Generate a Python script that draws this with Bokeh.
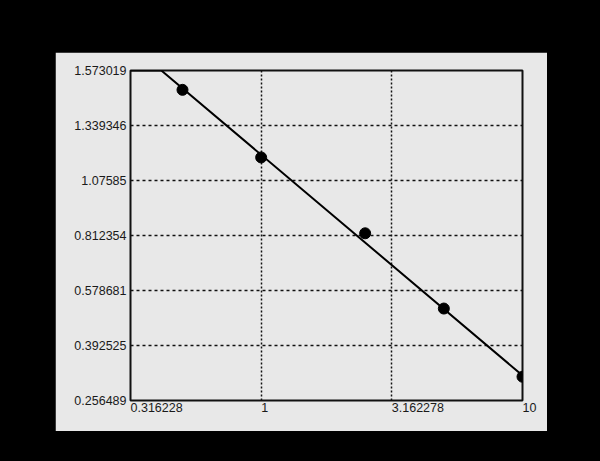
import numpy as np
from bokeh.plotting import figure
from bokeh.models import (FixedTicker, Range1d, ColumnDataSource,
                          GlobalInlineStyleSheet)
from bokeh.embed import file_html
from bokeh.resources import INLINE

# ---- data ----
x_tick_vals = [0.316228, 1, 3.162278, 10]
x_tick_labels = ["0.316228", "1", "3.162278", "10"]
y_tick_vals = [0.256489, 0.392525, 0.578681, 0.812354, 1.07585, 1.339346, 1.573019]
y_tick_labels = ["0.256489", "0.392525", "0.578681", "0.812354", "1.07585", "1.339346", "1.573019"]

conc = [0.5, 1.0, 2.5, 5.0, 10.0]
resp = [1.4908, 1.1863, 0.8229, 0.5176, 0.3153]

fit_x = [0.316228, 0.415, 10.0]
fit_y = [1.573019, 1.573019, 0.3184]

FONT = "Liberation Sans"

# the response axis is a non-linear scale with evenly spaced ticks:
# map values to tick positions through the tick table
y_pos = list(range(len(y_tick_vals)))
def to_pos(v):
    return np.interp(v, y_tick_vals, y_pos)

css = GlobalInlineStyleSheet(css="html,body{background:#000 !important;margin:0 !important;} body{padding-left:55px;padding-top:52px;}")

p = figure(width=492, height=379, x_axis_type="log",
           x_range=Range1d(x_tick_vals[0], x_tick_vals[-1]),
           y_range=Range1d(y_pos[0], y_pos[-1]),
           output_backend="svg", toolbar_location=None,
           min_border_left=75, min_border_right=25,
           min_border_top=18, min_border_bottom=31)
p.stylesheets = [css]
p.background_fill_color = "#e8e8e8"
p.border_fill_color = "#e8e8e8"
p.outline_line_color = "#111111"
p.outline_line_width = 2

# y axis
p.yaxis.ticker = FixedTicker(ticks=y_pos)
p.yaxis.major_label_overrides = {i: s for i, s in zip(y_pos, y_tick_labels)}
p.yaxis.major_label_standoff = -2

# x axis: labels left-aligned at their ticks
p.xaxis.ticker = FixedTicker(ticks=x_tick_vals)
p.xaxis.major_label_overrides = {v: s for v, s in zip(x_tick_vals, x_tick_labels)}
p.xaxis.major_label_orientation = -0.0001
p.xaxis.major_label_standoff = 1

for ax in (p.xaxis[0], p.yaxis[0]):
    ax.axis_line_color = None
    ax.major_tick_line_color = None
    ax.minor_tick_line_color = None
    ax.major_label_text_font = FONT
    ax.major_label_text_font_size = "12.5px"
    ax.major_label_text_color = "#1a1a1a"

# grids
p.xgrid.ticker = FixedTicker(ticks=x_tick_vals[1:-1])
p.ygrid.ticker = FixedTicker(ticks=y_pos[1:-1])
p.xgrid.grid_line_color = "#111111"
p.xgrid.grid_line_dash = "2 2"
p.xgrid.grid_line_width = 1.5
p.ygrid.grid_line_color = "#111111"
p.ygrid.grid_line_dash = "3 3"
p.ygrid.grid_line_width = 1.5

fit_src = ColumnDataSource(dict(x=fit_x, y=to_pos(fit_y)))
p.line("x", "y", source=fit_src, line_color="black", line_width=2)

pt_src = ColumnDataSource(dict(x=conc, y=to_pos(resp)))
p.scatter("x", "y", source=pt_src, size=11, fill_color="black", line_color="black")

open("out.html", "w").write(file_html(p, INLINE))
